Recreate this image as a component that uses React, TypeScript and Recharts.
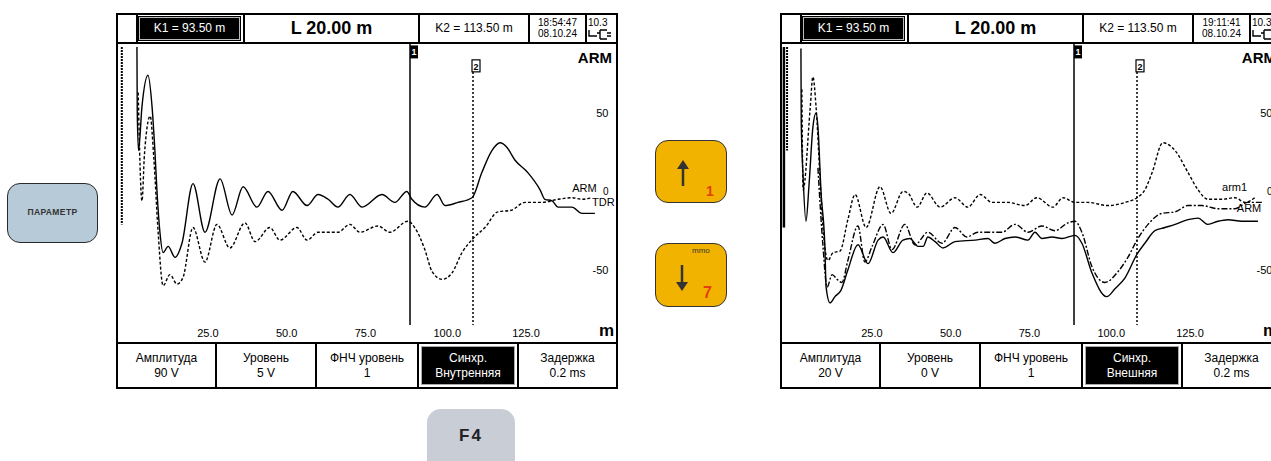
import React from "react";
import { LineChart, Line, XAxis, YAxis, ReferenceLine, ReferenceDot } from "recharts";

type Pt = [number, number];

// left screen: ARM (solid) and TDR (dashed), [distance m, amplitude]
const leftArm: Pt[] = [
  [6.8, 92], [6.9, 51], [7.3, 26], [8.4, 54], [10.3, 74], [11.6, 54], [12.5, 26], [13.2, -1],
  [14.1, -26], [15.1, -39], [16.7, -35], [18.9, -42], [21.1, -33], [24.6, 5], [28.4, -26],
  [33.2, 8], [37.0, -15], [40.5, 3], [44.9, -10], [48.4, 0], [52.9, -12], [56.3, 0], [60.8, -9],
  [64.3, -2], [67.5, -5], [70.6, -10], [74.4, -2], [78.3, -10], [84.6, -2], [88.7, -7], [92.5, 0],
  [94.1, -5], [98.2, -10], [102.1, -2], [104.6, -9], [108.7, -7], [113.2, -4], [116.3, 12],
  [119.5, 26], [122.1, 31], [124.3, 28], [126.8, 20], [130.9, 12], [134.8, 1], [136.3, -5],
  [138.6, -6], [140.5, -10], [144.9, -10], [148.1, -14], [152.2, -14],
];
const leftTdr: Pt[] = [
  [7.2, 63], [8.4, -6], [9.2, 24], [11.0, 48], [12.2, 20], [13.5, -25], [15.1, -60], [17.3, -53],
  [19.5, -59], [21.4, -55], [24.6, -23], [28.4, -45], [32.2, -21], [36.3, -36], [41.1, -20],
  [44.3, -32], [49.0, -23], [52.2, -31], [57.6, -23], [60.8, -31], [64.3, -26], [70.6, -26],
  [74.4, -21], [77.6, -26], [83.3, -22], [87.1, -26], [92.8, -19], [95.0, -23], [98.2, -37],
  [100.5, -51], [103.7, -56], [106.8, -52], [110.0, -39], [113.5, -30], [117.3, -23], [121.4, -13],
  [125.6, -12], [130.0, -7], [135.4, -7], [140.5, -5], [144.9, -4], [148.1, -5], [151.3, -4],
];

// right screen: solid, arm1 (dashed), ARM (dash-dot)
const rightSolid: Pt[] = [
  [6.8, 91], [6.9, 44], [7.5, 9], [8.4, -19], [9.4, 5], [10.6, 41], [11.6, 50], [12.2, 41],
  [13.2, -1], [14.4, -35], [14.8, -61], [16.0, -71], [17.6, -67], [19.5, -63], [21.7, -50],
  [24.9, -34], [28.1, -46], [31.3, -31], [32.9, -29], [36.0, -39], [39.2, -31], [41.4, -30],
  [44.0, -35], [45.6, -35], [47.1, -29], [49.4, -32], [51.9, -36], [55.7, -32], [62.1, -31],
  [66.2, -30], [68.4, -33], [71.6, -30], [74.8, -29], [78.9, -31], [81.1, -26], [83.3, -30],
  [86.5, -29], [89.7, -30], [93.8, -28], [96.0, -33], [99.2, -52], [103.9, -67], [106.5, -62],
  [109.7, -55], [113.5, -40], [116.0, -33], [119.2, -25], [122.4, -23], [125.6, -21], [129.7, -18],
  [132.9, -17], [136.0, -21], [139.2, -19], [142.4, -18], [146.8, -19], [151.9, -19],
];
const rightArm1: Pt[] = [
  [7.1, 65], [7.5, 1], [9.7, 52], [10.6, 73], [11.6, 54], [12.9, 7], [13.8, -23], [15.4, -44],
  [17.0, -39], [19.2, -38], [21.7, -18], [24.0, -2], [27.5, -23], [31.9, 3], [35.4, -14],
  [39.2, 0], [40.8, -1], [43.7, -10], [46.8, -1], [51.0, -10], [55.7, -4], [59.8, -10], [63.7, -2],
  [67.5, -7], [72.5, -7], [77.9, -9], [81.7, -4], [86.8, -10], [90.0, -4], [93.8, -7], [97.9, -7],
  [104.3, -9], [109.7, -7], [113.5, -4], [116.0, 1], [118.3, 12], [121.7, 31], [125.6, 26],
  [129.7, 12], [132.9, 1], [136.0, -5], [140.5, -5], [144.6, -4], [147.8, -7], [150.9, -4],
];
const rightArm: Pt[] = [
  [12.2, 15], [13.8, -35], [15.1, -61], [16.7, -53], [18.3, -56], [19.8, -58],
  [21.7, -44], [24.9, -22], [27.1, -45], [29.4, -35], [32.9, -21], [35.7, -37], [39.8, -21],
  [43.0, -34], [47.1, -26], [51.6, -33], [55.7, -23], [59.5, -29], [63.0, -26], [70.6, -26],
  [74.8, -21], [78.9, -26], [83.3, -22], [87.5, -25], [91.6, -20], [93.8, -19], [96.0, -26],
  [99.2, -48], [103.3, -58], [107.5, -51], [110.6, -42], [113.5, -31], [117.0, -21], [121.4, -14],
  [125.6, -13], [129.7, -9], [134.1, -9], [139.2, -11], [144.6, -11], [148.7, -7], [153.2, -7],
];

const xTicks = [25, 50, 75, 100, 125];
const yTicks = [50, 0, -50];
const cursor1 = 93.5;
const cursor2 = 113.5;

const leftMenu: [string, string][] = [
  ["Амплитуда", "90 V"], ["Уровень", "5 V"], ["ФНЧ уровень", "1"], ["Синхр.", "Внутренняя"], ["Задержка", "0.2 ms"],
];
const rightMenu: [string, string][] = [
  ["Амплитуда", "20 V"], ["Уровень", "0 V"], ["ФНЧ уровень", "1"], ["Синхр.", "Внешняя"], ["Задержка", "0.2 ms"],
];

const FONT = "'Liberation Sans', Arial, sans-serif";
const X_DOM: [number, number] = [0.79, 158.9];
const Y_DOM: [number, number] = [-95.9, 93.9];
const rows = (pts: Pt[]) => pts.map(([m, v]) => ({ m, v }));

type Trace = { pts: Pt[]; dash?: string };
type Tag = { m: number; v: number; text: string };

const cellSep = (x: number) => (
  <div style={{ position: "absolute", left: x, top: 0, width: 2, height: "100%", background: "#000" }} />
);

function Screen(props: {
  left: number; time: string; date: string; menu: [string, string][];
  traces: Trace[]; tags: Tag[]; edge: { m: number; v: number; dash?: string }[];
}) {
  const { left, time, date, menu, traces, tags, edge } = props;
  const menuEdges = [0, 97, 197, 299, 399, 498];
  return (
    <div style={{ position: "absolute", left, top: 13, width: 502, height: 376, border: "2px solid #000", boxSizing: "border-box", fontFamily: FONT, color: "#000" }}>
      {/* header */}
      <div style={{ position: "absolute", left: 0, top: 0, width: 498, height: 27, borderBottom: "2px solid #000" }}>
        {cellSep(18)}
        <div style={{ position: "absolute", left: 20, top: 1, width: 103, height: 25, background: "#000", boxShadow: "inset 0 0 0 1px #000, inset 0 0 0 2px #bbb", color: "#fff", fontSize: 12, lineHeight: "25px", textAlign: "center" }}>K1 = 93.50 m</div>
        {cellSep(125)}
        <div style={{ position: "absolute", left: 127, top: 0, width: 173, height: 27, fontSize: 18, fontWeight: 700, lineHeight: "27px", textAlign: "center" }}>L 20.00 m</div>
        {cellSep(300)}
        <div style={{ position: "absolute", left: 302, top: 0, width: 108, height: 27, fontSize: 12, lineHeight: "27px", textAlign: "center" }}>K2 = 113.50 m</div>
        {cellSep(410)}
        <div style={{ position: "absolute", left: 412, top: 2, width: 55, fontSize: 10, lineHeight: "11px", textAlign: "center" }}>{time}<br />{date}</div>
        {cellSep(467)}
        <div style={{ position: "absolute", left: 470, top: 2, fontSize: 10, lineHeight: "11px" }}>10.3</div>
        <svg style={{ position: "absolute", left: 470, top: 14 }} width={24} height={11}>
          <path d="M1 1 V7 H9 M9 4 H12 M12 1 V10 M12 1 H19 M12 10 H19 M19 4 H23 M19 7 H23" stroke="#000" strokeWidth={1.4} fill="none" />
        </svg>
      </div>
      <div style={{ position: "absolute", right: 4, top: 34, fontSize: 15, fontWeight: 700 }}>ARM</div>
      <div style={{ position: "absolute", right: 2, top: 306, fontSize: 17, fontWeight: 700 }}>m</div>
      {/* plot */}
      <div style={{ position: "absolute", left: 0, top: 29 }}>
        <LineChart width={498} height={298} margin={{ top: 0, right: 0, bottom: 0, left: 0 }}>
          <XAxis type="number" dataKey="m" domain={X_DOM} allowDataOverflow hide />
          <YAxis type="number" domain={Y_DOM} allowDataOverflow hide />
          {edge.map((e, i) => (
            <ReferenceLine key={"e" + i} segment={[{ x: e.m, y: 92 }, { x: e.m, y: e.v }]} stroke="#000"
              strokeWidth={e.dash ? 2 : 2.5} strokeDasharray={e.dash} />
          ))}
          <ReferenceLine segment={[{ x: cursor1, y: Y_DOM[1] }, { x: cursor1, y: -85 }]} stroke="#000" strokeWidth={1.5} />
          <ReferenceLine segment={[{ x: cursor2, y: 76 }, { x: cursor2, y: -85 }]} stroke="#000" strokeWidth={1.5} strokeDasharray="2 2" />
          <ReferenceDot x={cursor1} y={93} shape={(p: any) => (
            <g>
              <rect x={p.cx} y={p.cy} width={8} height={13} fill="#000" />
              <text x={p.cx + 4} y={p.cy + 10} fontSize={9} fontWeight={700} fill="#fff" textAnchor="middle" fontFamily={FONT}>1</text>
            </g>
          )} />
          <ReferenceDot x={cursor2} y={83.8} shape={(p: any) => (
            <g>
              <rect x={p.cx - 1} y={p.cy} width={8} height={12} fill="#fff" stroke="#000" strokeWidth={1.2} />
              <text x={p.cx + 3} y={p.cy + 10} fontSize={9} fontWeight={700} fill="#000" textAnchor="middle" fontFamily={FONT}>2</text>
            </g>
          )} />
          {traces.map((t, i) => (
            <Line key={i} data={rows(t.pts)} dataKey="v" type="monotone" stroke="#000" strokeWidth={1.4}
              strokeDasharray={t.dash} dot={false} activeDot={false} isAnimationActive={false} />
          ))}
          {/* distance labels along the bottom */}
          {xTicks.map((t) => (
            <ReferenceDot key={"x" + t} x={t} y={-92.7} shape={(p: any) => (
              <text x={p.cx + 3} y={p.cy} fontSize={11} fontFamily={FONT} textAnchor="start" fill="#000">{t.toFixed(1)}</text>
            )} />
          ))}
          {/* amplitude labels at the right edge */}
          {yTicks.map((t) => (
            <ReferenceDot key={"y" + t} x={156.5} y={t} shape={(p: any) => (
              <text x={p.cx} y={p.cy + 4} fontSize={t === 0 ? 10 : 11} fontFamily={FONT} textAnchor="end" fill="#000">{t}</text>
            )} />
          ))}
          {tags.map((t, i) => (
            <ReferenceDot key={"t" + i} x={t.m} y={t.v} shape={(p: any) => (
              <text x={p.cx} y={p.cy + 4} fontSize={11} fontFamily={FONT} fill="#000">{t.text}</text>
            )} />
          ))}
        </LineChart>
      </div>
      {/* menu */}
      <div style={{ position: "absolute", left: 0, top: 327, width: 498, height: 45, borderTop: "2px solid #000" }}>
        {menu.map(([a, b], i) => {
          const x0 = menuEdges[i];
          const w = menuEdges[i + 1] - x0;
          const active = i === 3;
          return (
            <div key={i} style={{ position: "absolute", left: x0 + (i ? 2 : 0), top: 0, width: w - (i ? 2 : 0), height: 43 }}>
              {i > 0 && <div style={{ position: "absolute", left: -2, top: 0, width: 2, height: 43, background: "#000" }} />}
              <div style={{ position: "absolute", inset: active ? 2 : 0, background: active ? "#000" : "#fff", boxShadow: active ? "inset 0 0 0 1px #aaa" : "none", color: active ? "#fff" : "#000", fontSize: 12, lineHeight: "15px", textAlign: "center", paddingTop: active ? 5 : 7, boxSizing: "border-box" }}>
                {a}<br />{b}
              </div>
            </div>
          );
        })}
      </div>
    </div>
  );
}

export default function App() {
  return (
    <div style={{ position: "absolute", left: 0, top: 0, width: 1271, height: 461, overflow: "hidden", background: "#fff" }}>
      <Screen left={116} time="18:54:47" date="08.10.24" menu={leftMenu}
        traces={[{ pts: leftArm }, { pts: leftTdr, dash: "3 2" }]}
        tags={[{ m: 145, v: 2, text: "ARM" }, { m: 151.3, v: -7, text: "TDR" }]}
        edge={[{ m: 2.0, v: -21, dash: "2 1" }]} />
      <Screen left={780} time="19:11:41" date="08.10.24" menu={rightMenu}
        traces={[{ pts: rightSolid }, { pts: rightArm1, dash: "3 2" }, { pts: rightArm, dash: "6 2 2 2" }]}
        tags={[{ m: 140.5, v: 3, text: "arm1" }, { m: 145.2, v: -10.5, text: "ARM" }]}
        edge={[{ m: 1.4, v: -23 }, { m: 2.4, v: 26, dash: "2 1" }]} />

      {/* кнопки */}
      <div style={{ position: "absolute", left: 7, top: 183, width: 91, height: 60, borderRadius: 13, background: "#b7cad8", border: "1.5px solid #2a2a2a", boxSizing: "border-box", fontFamily: FONT, fontSize: 8.5, fontWeight: 700, color: "#333", letterSpacing: 0.4, textAlign: "center", lineHeight: "57px" }}>ПАРАМЕТР</div>

      <div style={{ position: "absolute", left: 655, top: 140, width: 72, height: 63, borderRadius: 13, background: "#f2b300", border: "1.5px solid #333", boxSizing: "border-box", fontFamily: FONT }}>
        <svg style={{ position: "absolute", left: 20, top: 19 }} width={14} height={26}>
          <line x1={7} y1={7} x2={7} y2={26} stroke="#333" strokeWidth={2.5} />
          <polygon points="1,9 7,0 13,9" fill="#333" />
        </svg>
        <div style={{ position: "absolute", left: 50, top: 42, fontSize: 14, fontWeight: 700, color: "#e2400f" }}>1</div>
      </div>

      <div style={{ position: "absolute", left: 655, top: 243, width: 72, height: 64, borderRadius: 13, background: "#f2b300", border: "1.5px solid #333", boxSizing: "border-box", fontFamily: FONT }}>
        <div style={{ position: "absolute", left: 36, top: 2, fontSize: 8, color: "#333" }}>mmo</div>
        <svg style={{ position: "absolute", left: 19, top: 21 }} width={14} height={26}>
          <line x1={7} y1={0} x2={7} y2={19} stroke="#333" strokeWidth={2.5} />
          <polygon points="1,17 7,26 13,17" fill="#333" />
        </svg>
        <div style={{ position: "absolute", left: 47, top: 40, fontSize: 16, fontWeight: 700, color: "#e2400f" }}>7</div>
      </div>

      <div style={{ position: "absolute", left: 427, top: 409, width: 88, height: 70, borderRadius: 14, background: "#c9ced6", fontFamily: FONT, fontSize: 17, fontWeight: 900, color: "#222", letterSpacing: 2, textAlign: "center", paddingTop: 17, boxSizing: "border-box" }}>F4</div>
    </div>
  );
}
